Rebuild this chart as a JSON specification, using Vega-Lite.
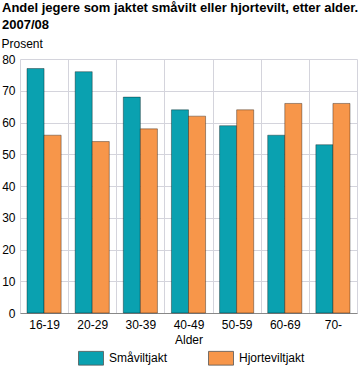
{
  "$schema": "https://vega.github.io/schema/vega-lite/v6.json",
  "width": 337,
  "height": 254,
  "autosize": "none",
  "padding": {"left": 20, "top": 59, "right": 6, "bottom": 62},
  "background": "white",
  "config": {
    "font": "Liberation Sans",
    "view": {"stroke": null}
  },
  "title": {
    "text": ["Andel jegere som jaktet småvilt eller hjortevilt, etter alder.", "2007/08"],
    "anchor": "start",
    "frame": "group",
    "dx": -18,
    "offset": 5,
    "font": "Liberation Sans",
    "fontSize": 13,
    "fontWeight": "bold",
    "color": "#000",
    "lineHeight": 17
  },
  "data": {
    "values": [
      {"alder": "16-19", "type": "Småviltjakt", "value": 77},
      {"alder": "16-19", "type": "Hjorteviltjakt", "value": 56},
      {"alder": "20-29", "type": "Småviltjakt", "value": 76},
      {"alder": "20-29", "type": "Hjorteviltjakt", "value": 54},
      {"alder": "30-39", "type": "Småviltjakt", "value": 68},
      {"alder": "30-39", "type": "Hjorteviltjakt", "value": 58},
      {"alder": "40-49", "type": "Småviltjakt", "value": 64},
      {"alder": "40-49", "type": "Hjorteviltjakt", "value": 62},
      {"alder": "50-59", "type": "Småviltjakt", "value": 59},
      {"alder": "50-59", "type": "Hjorteviltjakt", "value": 64},
      {"alder": "60-69", "type": "Småviltjakt", "value": 56},
      {"alder": "60-69", "type": "Hjorteviltjakt", "value": 66},
      {"alder": "70-", "type": "Småviltjakt", "value": 53},
      {"alder": "70-", "type": "Hjorteviltjakt", "value": 66}
    ]
  },
  "mark": {"type": "bar", "stroke": "#000", "strokeOpacity": 0.45, "strokeWidth": 0.8},
  "encoding": {
    "x": {
      "field": "alder",
      "type": "nominal",
      "sort": ["16-19", "20-29", "30-39", "40-49", "50-59", "60-69", "70-"],
      "scale": {"paddingInner": 0, "paddingOuter": 0},
      "axis": {
        "title": "Alder",
        "titleFont": "Liberation Sans",
        "titleFontSize": 12,
        "titleFontWeight": "normal",
        "titleColor": "#000",
        "titlePadding": 4,
        "labelAngle": 0,
        "labelFont": "Liberation Sans",
        "labelFontSize": 12,
        "labelColor": "#000",
        "labelPadding": 6,
        "ticks": false,
        "grid": true,
        "tickBand": "extent",
        "gridColor": "#d4d4dc",
        "gridWidth": 1,
        "domainColor": "#888",
        "domainWidth": 1
      }
    },
    "xOffset": {
      "field": "type",
      "type": "nominal",
      "sort": ["Småviltjakt", "Hjorteviltjakt"],
      "scale": {"paddingInner": 0, "paddingOuter": 0.41}
    },
    "y": {
      "field": "value",
      "type": "quantitative",
      "scale": {"domain": [0, 80]},
      "axis": {
        "title": "Prosent",
        "titleAngle": 0,
        "titleAlign": "left",
        "titleBaseline": "bottom",
        "titleX": -19,
        "titleY": -9,
        "titleFont": "Liberation Sans",
        "titleFontSize": 12,
        "titleFontWeight": "normal",
        "titleColor": "#000",
        "values": [0, 10, 20, 30, 40, 50, 60, 70, 80],
        "labelFont": "Liberation Sans",
        "labelFontSize": 12,
        "labelColor": "#000",
        "labelPadding": 5,
        "ticks": false,
        "domain": false,
        "grid": true,
        "gridColor": "#d4d4dc"
      }
    },
    "color": {
      "field": "type",
      "type": "nominal",
      "sort": ["Småviltjakt", "Hjorteviltjakt"],
      "scale": {"domain": ["Småviltjakt", "Hjorteviltjakt"], "range": ["#0aa1b0", "#f7964a"]},
      "legend": {
        "title": null,
        "orient": "none",
        "legendX": 58,
        "legendY": 286,
        "direction": "horizontal",
        "symbolType": "M-1,-0.55H1V0.55H-1Z",
        "symbolSize": 625,
        "symbolStrokeColor": "#555",
        "symbolStrokeWidth": 0.8,
        "symbolOpacity": 1,
        "labelFont": "Liberation Sans",
        "labelFontSize": 12,
        "labelColor": "#000",
        "labelOffset": 5,
        "columnPadding": 38
      }
    }
  }
}
